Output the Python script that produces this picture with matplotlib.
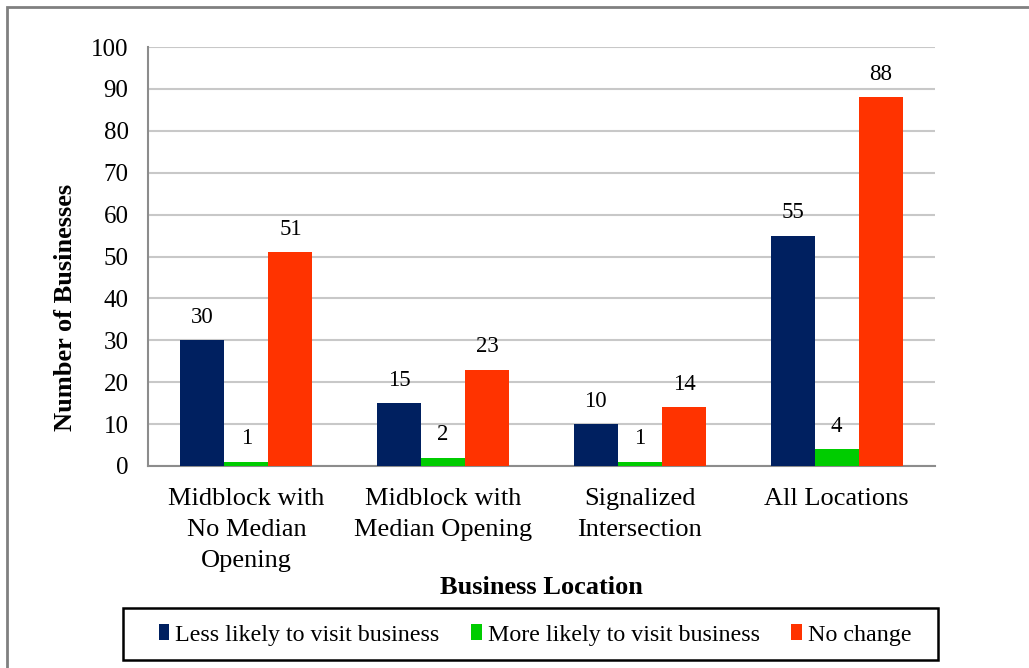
import matplotlib
matplotlib.use("Agg")
import matplotlib.pyplot as plt
import numpy as np
from matplotlib.patches import Rectangle

categories = ["Midblock with\nNo Median\nOpening", "Midblock with\nMedian Opening",
              "Signalized\nIntersection", "All Locations"]
series_names = ["Less likely to visit business", "More likely to visit business", "No change"]
less_likely = [30, 15, 10, 55]
more_likely = [1, 2, 1, 4]
no_change = [51, 23, 14, 88]
colors = ["#002060", "#00CC00", "#FF3300"]

plt.rcParams['font.family'] = ['Liberation Serif', 'DejaVu Serif']

fig = plt.figure(figsize=(10.29, 6.68), dpi=100)
ax = fig.add_axes([148/1029, 1-466/668, (935-148)/1029, (466-47)/668])

x = np.arange(len(categories))
w = 0.224
for i, (vals, c, name) in enumerate(zip([less_likely, more_likely, no_change], colors, series_names)):
    bars = ax.bar(x + (i-1)*w, vals, w, color=c, label=name, zorder=3)
    for b, v in zip(bars, vals):
        ax.annotate(str(v), (b.get_x()+b.get_width()/2, v), xytext=(0, 9),
                    textcoords="offset points", ha="center", va="bottom", fontsize=16.5)

ax.set_xlim(-0.5, 3.5)
ax.set_ylim(0, 100)
ax.set_yticks(range(0, 101, 10))
ax.set_xticks(x)
ax.set_xticklabels(categories, fontsize=19, linespacing=1.52)
ax.tick_params(axis='y', labelsize=18, length=0, pad=14)
ax.tick_params(axis='x', length=0, pad=16)
ax.grid(axis='y', color='#C8C8C8', linewidth=1.5, zorder=0)
for s in ['top', 'right']:
    ax.spines[s].set_visible(False)
for s in ['left', 'bottom']:
    ax.spines[s].set_color('#8C8C8C')
    ax.spines[s].set_linewidth(1.5)
ax.set_ylabel("Number of Businesses", fontsize=19, fontweight='bold')
ax.yaxis.label.set_va('center')
ax.yaxis.set_label_coords(-(148-66)/787, (466-307)/419)
ax.set_xlabel("Business Location", fontsize=19, fontweight='bold')
ax.xaxis.set_label_coords(0.5, -(587-466)/419)
ax.xaxis.label.set_va('center')

leg = fig.legend(loc='center', bbox_to_anchor=(535/1029, 1-635/668), ncol=3, fontsize=17.3,
                 frameon=False, handlelength=0.45,
                 handleheight=0.6, handletextpad=0.25, columnspacing=1.3,
                 borderpad=0.0, borderaxespad=0)

fig.patches.append(Rectangle((123/1029, 1-660/668), (938-123)/1029, 52/668,
                             transform=fig.transFigure, fill=False, edgecolor='black',
                             linewidth=1.8))
fig.patches.append(Rectangle((7/1029, -0.01), 1.0, 1-7/668+0.01, transform=fig.transFigure,
                             fill=False, edgecolor='#808080', linewidth=2))

fig.savefig("out.png", dpi=100)
